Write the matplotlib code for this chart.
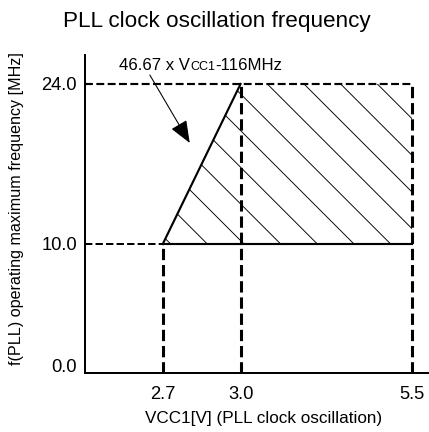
import numpy as np
import matplotlib
matplotlib.use("Agg")
import matplotlib.pyplot as plt
from matplotlib.patches import Polygon
from matplotlib.offsetbox import TextArea, HPacker, AnnotationBbox

plt.rcParams['font.family'] = ['Liberation Sans', 'DejaVu Sans']
plt.rcParams['hatch.linewidth'] = 0.3

# ---- data ----
vcc_ticks = [2.7, 3.0, 5.5]
freq_ticks = [0.0, 10.0, 24.0]
vcc_min, vcc_knee, vcc_max = 2.7, 3.0, 5.5
f_low, f_high = 10.0, 24.0
region_v = [2.7, 3.0, 5.5, 5.5]
region_f = [10.0, 24.0, 24.0, 10.0]

# schematic axes: piecewise linear scales (not to scale in the original)
x_nodes = [2.4, 2.7, 3.0, 5.5, 5.75]
x_pos = [0, 78, 156, 328, 345]
y_nodes = [-0.574, 0.0, 10.0, 24.0, 26.54]
y_pos = [0, 7, 129, 289, 318]


def piecewise(xs, ys):
    xs = np.asarray(xs, float)
    ys = np.asarray(ys, float)
    s0 = (ys[1] - ys[0]) / (xs[1] - xs[0])
    s1 = (ys[-1] - ys[-2]) / (xs[-1] - xs[-2])

    def f(v):
        v = np.asarray(v, float)
        out = np.interp(v, xs, ys)
        out = np.where(v < xs[0], ys[0] + (v - xs[0]) * s0, out)
        out = np.where(v > xs[-1], ys[-1] + (v - xs[-1]) * s1, out)
        return out
    return f


W, H, DPI = 429, 432, 220
fig = plt.figure(figsize=(W / DPI, H / DPI), dpi=DPI)
ax = fig.add_axes([85 / W, (H - 373) / H, 344 / W, 318 / H])

ax.set_xscale('function', functions=(piecewise(x_nodes, x_pos), piecewise(x_pos, x_nodes)))
ax.set_yscale('function', functions=(piecewise(y_nodes, y_pos), piecewise(y_pos, y_nodes)))
ax.set_xlim(x_nodes[0], x_nodes[-1])
ax.set_ylim(y_nodes[0], y_nodes[-1])
xl, yb = x_nodes[0], y_nodes[0]

# hatched operating region
poly = Polygon(list(zip(region_v, region_f)), closed=True, fill=False,
               hatch='\\\\', edgecolor='black', linewidth=0)
ax.add_patch(poly)

# boundary lines
ax.plot([vcc_min, vcc_knee], [f_low, f_high], color='black', lw=0.7)
ax.plot([vcc_min, vcc_max], [f_low, f_low], color='black', lw=0.7)
ax.plot([xl, vcc_max], [f_high, f_high], color='black', lw=0.7, ls='--')
ax.plot([xl, vcc_min], [f_low, f_low], color='black', lw=0.65, ls='--')
ax.plot([vcc_min, vcc_min], [yb, f_low], color='black', lw=1.0, ls='--')
ax.plot([vcc_knee, vcc_knee], [yb, f_high], color='black', lw=1.0, ls='--')
ax.plot([vcc_max, vcc_max], [yb, f_high], color='black', lw=1.0, ls='--')

# formula annotation with small-caps "CC1"
parts = [TextArea("46.67 x V", textprops=dict(size=5.5)),
         TextArea("CC1", textprops=dict(size=4.1)),
         TextArea("-116MHz", textprops=dict(size=5.5))]
box = HPacker(children=parts, align="baseline", pad=0, sep=0)
ab = AnnotationBbox(box, (2.846, 25.66), xycoords='data', frameon=False,
                    box_alignment=(0.5, 0.5), pad=0)
ax.add_artist(ab)
ax.annotate("", xy=(2.804, 18.84), xytext=(2.65, 24.79),
            arrowprops=dict(arrowstyle="-|>,head_length=0.45,head_width=0.18",
                            mutation_scale=14, color='black', lw=0.35,
                            shrinkA=0, shrinkB=0))

ax.set_xticks(vcc_ticks)
ax.set_xticklabels([f"{v:.1f}" for v in vcc_ticks])
ax.set_yticks(freq_ticks)
ax.set_yticklabels([f"{v:.1f}" for v in freq_ticks])
ax.tick_params(axis='x', length=0, pad=4.4, labelsize=6.0)
ax.tick_params(axis='y', length=0, pad=2.6, labelsize=6.0)
ax.minorticks_off()
for s in ['top', 'right']:
    ax.spines[s].set_visible(False)
for s in ['left', 'bottom']:
    ax.spines[s].set_linewidth(0.65)

fig.text(217 / W, 1 - 21 / H, "PLL clock oscillation frequency",
         ha='center', va='center', fontsize=7.35)
fig.text(264 / W, 1 - 418 / H, "VCC1[V] (PLL clock oscillation)",
         ha='center', va='center', fontsize=5.6)
fig.text(17 / W, 1 - 209 / H, "f(PLL) operating maximum frequency [MHz]",
         ha='center', va='center', rotation=90, fontsize=5.3)

fig.savefig("out.png", dpi=DPI)
